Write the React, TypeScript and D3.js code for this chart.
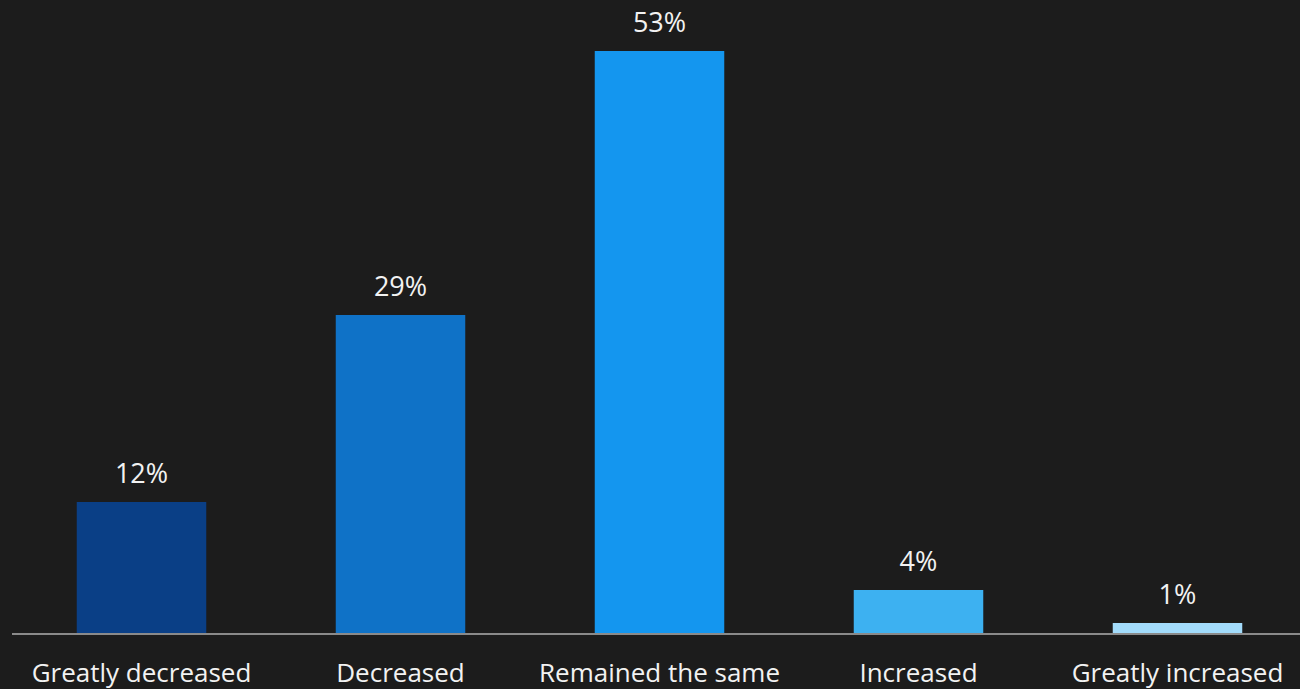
import React from "react";
import * as d3 from "d3";

const categories = ["Greatly decreased", "Decreased", "Remained the same", "Increased", "Greatly increased"];
const values = [12, 29, 53, 4, 1];
const colors = ["#0a3f86", "#0f72c7", "#1496ef", "#3db1f1", "#a3dcfb"];

const W = 1300;
const H = 689;

export default function App() {
  const x = d3.scaleBand<string>().domain(categories).range([12, 1307]).paddingInner(0.5).paddingOuter(0.25);
  const y = d3.scaleLinear().domain([0, 53]).range([634, 51]);
  const font = "'Source Sans Pro', 'Open Sans', 'Noto Sans', sans-serif";
  return (
    <svg width={W} height={H} style={{ position: "absolute", left: 0, top: 0, display: "block" }}>
      <rect x={0} y={0} width={W} height={H} fill="#1c1c1c" />
      {categories.map((c, i) => (
        <g key={c}>
          <rect x={x(c)} y={y(values[i])} width={x.bandwidth()} height={y(0) - y(values[i])} fill={colors[i]} />
          <text x={(x(c) as number) + x.bandwidth() / 2} y={y(values[i]) - 19} textAnchor="middle" fill="#f2f2f2" fontSize={27} fontFamily={font}>
            {values[i]}%
          </text>
          <text x={(x(c) as number) + x.bandwidth() / 2} y={682} textAnchor="middle" fill="#f2f2f2" fontSize={26} fontFamily={font}>
            {c}
          </text>
        </g>
      ))}
      <line x1={12} x2={1300} y1={y(0)} y2={y(0)} stroke="#8a8a8a" strokeWidth={2} />
    </svg>
  );
}
